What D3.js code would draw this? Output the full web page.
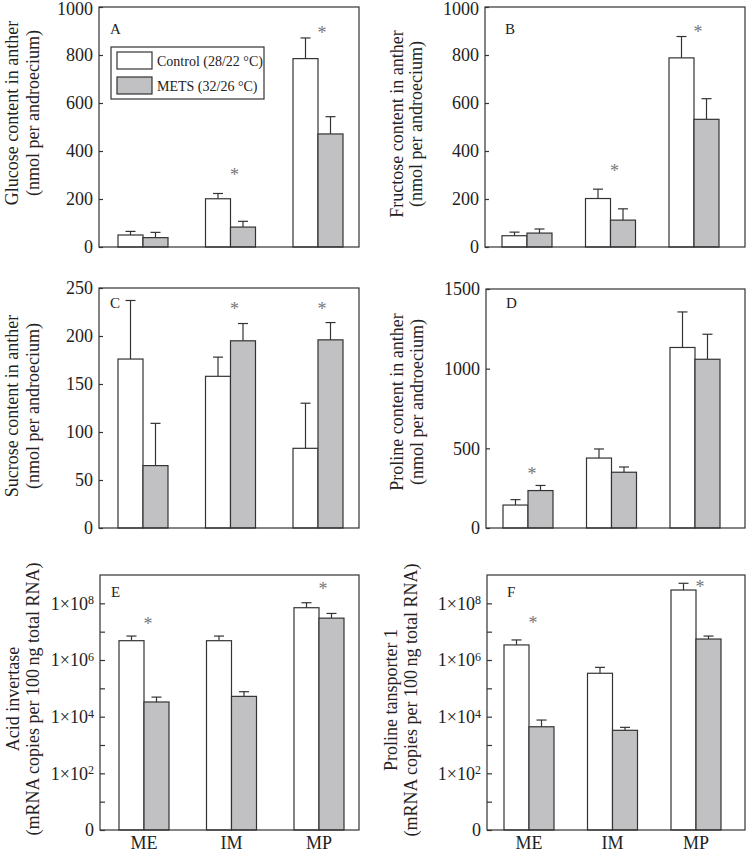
<!DOCTYPE html>
<html><head><meta charset="utf-8">
<script src="https://cdn.jsdelivr.net/npm/d3@7"></script>
<style>
body{margin:0;background:#fff}
svg{display:block}
text{font-family:"Liberation Serif","Times New Roman",serif;fill:#222}
</style>
</head><body>
<svg id="chart" width="747" height="853"></svg>
<script>
// ---------- DATA ----------
const categories = ["ME", "IM", "MP"];
const seriesNames = ["Control (28/22 °C)", "METS (32/26 °C)"];

// A: glucose (nmol per androecium)
const glucoseControl = [50, 201, 785];
const glucoseControlSE = [15, 22, 86];
const glucoseMets = [39, 83, 471];
const glucoseMetsSE = [22, 24, 72];
const glucoseSig = [["IM", 314], ["MP", 906]];

// B: fructose
const fructoseControl = [47, 202, 788];
const fructoseControlSE = [15, 39, 89];
const fructoseMets = [58, 112, 532];
const fructoseMetsSE = [17, 47, 86];
const fructoseSig = [["IM", 331], ["MP", 910]];

// C: sucrose
const sucroseControl = [176, 158, 83];
const sucroseControlSE = [61, 20, 47];
const sucroseMets = [65, 195, 196];
const sucroseMetsSE = [44, 18, 18];
const sucroseSig = [["IM", 231], ["MP", 231]];

// D: proline
const prolineControl = [144, 439, 1133];
const prolineControlSE = [34, 57, 223];
const prolineMets = [235, 350, 1059];
const prolineMetsSE = [32, 33, 157];
const prolineSig = [["ME", 360]];

// E: acid invertase (mRNA copies per 100 ng total RNA)
const invertaseControl = [4.8e6, 4.8e6, 7.0e7];
const invertaseControlSE = [2.2e6, 2.2e6, 3.5e7];
const invertaseMets = [3.3e4, 5.2e4, 3.0e7];
const invertaseMetsSE = [1.6e4, 2.4e4, 1.4e7];
const invertaseSig = [["ME", 2.4e7], ["MP", 4.1e8]];

// F: proline transporter 1
const transporterControl = [3.4e6, 3.4e5, 2.95e8];
const transporterControlSE = [1.7e6, 2.1e5, 2.15e8];
const transporterMets = [4.4e3, 3.3e3, 5.5e6];
const transporterMetsSE = [3.2e3, 0.9e3, 1.5e6];
const transporterSig = [["ME", 2.6e7], ["MP", 5.0e8]];

// tick labels
const ticksGlu = [0, 200, 400, 600, 800, 1000];
const ticksSuc = [0, 50, 100, 150, 200, 250];
const ticksPro = [0, 500, 1000, 1500];
const logMajor = [1, 1e2, 1e4, 1e6, 1e8];
const logMajorExp = [null, "2", "4", "6", "8"];
const logMinor = [1e1, 1e3, 1e5, 1e7];

// ---------- DRAW ----------
const svg = d3.select("#chart");
const INK = "#333";
const GRAY = "#c1c1c3";
const BARW = 25;

const panels = [
  {letter:"A", x0:99, x1:359, y0:7, y1:247, left:true, dom:[0,1000], ticks:ticksGlu, ly:34,
   c:glucoseControl, cs:glucoseControlSE, m:glucoseMets, ms:glucoseMetsSE, sig:glucoseSig,
   t1:"Glucose content in anther", t2:"(nmol per androecium)", tx:[12,33], ty:113, legend:true},
  {letter:"B", x0:485, x1:745, y0:7, y1:247, left:false, dom:[0,1000], ticks:ticksGlu, ly:34,
   c:fructoseControl, cs:fructoseControlSE, m:fructoseMets, ms:fructoseMetsSE, sig:fructoseSig,
   t1:"Fructose content in anther", t2:"(nmol per androecium)", tx:[397,416], ty:124},
  {letter:"C", x0:99, x1:359, y0:288, y1:528, left:true, dom:[0,250], ticks:ticksSuc, ly:308,
   c:sucroseControl, cs:sucroseControlSE, m:sucroseMets, ms:sucroseMetsSE, sig:sucroseSig,
   t1:"Sucrose content in anther", t2:"(nmol per androecium)", tx:[12,33], ty:406},
  {letter:"D", x0:486, x1:745, y0:289, y1:528, left:false, dom:[0,1500], ticks:ticksPro, ly:308,
   c:prolineControl, cs:prolineControlSE, m:prolineMets, ms:prolineMetsSE, sig:prolineSig,
   t1:"Proline content in anther", t2:"(nmol per androecium)", tx:[397,417], ty:402},
  {letter:"E", x0:100, x1:359, y0:575, y1:830, left:true, log:true, dom:[1,1e9], ly:597,
   c:invertaseControl, cs:invertaseControlSE, m:invertaseMets, ms:invertaseMetsSE, sig:invertaseSig,
   t1:"Acid invertase", t2:"(mRNA copies per 100\u2009ng total RNA)", tx:[13,33], ty:699, xlabels:true},
  {letter:"F", x0:487, x1:745, y0:575, y1:830, left:false, log:true, dom:[1,1e9], ly:597,
   c:transporterControl, cs:transporterControlSE, m:transporterMets, ms:transporterMetsSE, sig:transporterSig,
   t1:"Proline tansporter 1", t2:"(mRNA copies per 100\u2009ng total RNA)", tx:[391,411], ty:700, xlabels:true}
];

panels.forEach(p => {
  const g = svg.append("g");
  const y = p.log
    ? d3.scaleLog().domain(p.dom).range([p.y1, p.y0])
    : d3.scaleLinear().domain(p.dom).range([p.y1, p.y0]);
  const x = d3.scalePoint().domain(categories)
    .range(p.left ? [p.x0 + 44, p.x0 + 219] : [p.x0 + 42, p.x0 + 209]);

  // bars
  const rows = categories.map((cat, i) => ({cat, c:p.c[i], cs:p.cs[i], m:p.m[i], ms:p.ms[i]}));
  const series = [
    {key:"c", se:"cs", fill:"#fff", off:-BARW},
    {key:"m", se:"ms", fill:GRAY, off:0}
  ];
  series.forEach(s => {
    rows.forEach(r => {
      const cx = x(r.cat) + s.off + BARW / 2;
      const top = y(r[s.key]);
      const et = y(r[s.key] + r[s.se]);
      g.append("line").attr("x1", cx).attr("x2", cx).attr("y1", top).attr("y2", et)
        .attr("stroke", INK).attr("stroke-width", 1.2);
      g.append("line").attr("x1", cx - 5).attr("x2", cx + 5).attr("y1", et).attr("y2", et)
        .attr("stroke", INK).attr("stroke-width", 1.2);
    });
    g.selectAll(null).data(rows).enter().append("rect")
      .attr("x", r => x(r.cat) + s.off)
      .attr("width", BARW)
      .attr("y", r => y(r[s.key]))
      .attr("height", r => p.y1 - y(r[s.key]))
      .attr("fill", s.fill).attr("stroke", INK).attr("stroke-width", 1.2);
  });

  // frame
  g.append("rect").attr("x", p.x0).attr("y", p.y0)
    .attr("width", p.x1 - p.x0).attr("height", p.y1 - p.y0)
    .attr("fill", "none").attr("stroke", INK).attr("stroke-width", 1.2);

  // y axis ticks (inward) and labels
  if (!p.log) {
    const ax = d3.axisRight(y).tickValues(p.ticks).tickSize(4).tickFormat("");
    const axg = g.append("g").attr("transform", `translate(${p.x0},0)`).call(ax);
    axg.select(".domain").remove();
    axg.selectAll("line").attr("stroke", INK).attr("stroke-width", 1.2);
    g.selectAll(null).data(p.ticks).enter().append("text")
      .attr("x", p.x0 - 6).attr("y", d => Math.max(y(d), 9)).attr("dy", "0.36em")
      .attr("text-anchor", "end").attr("font-size", 18).text(d => d);
  } else {
    const ax = d3.axisRight(y).tickValues(logMajor.concat(logMinor)).tickSize(5).tickFormat("");
    const axg = g.append("g").attr("transform", `translate(${p.x0},0)`).call(ax);
    axg.select(".domain").remove();
    axg.selectAll("line").attr("stroke", INK).attr("stroke-width", 1.2);
    logMajor.forEach((v, i) => {
      const t = g.append("text").attr("x", p.x0 - 6).attr("y", y(v)).attr("dy", "0.36em")
        .attr("text-anchor", "end").attr("font-size", 18);
      if (logMajorExp[i] === null) { t.text("0"); }
      else {
        t.append("tspan").text("1\u00d710");
        t.append("tspan").attr("dy", "-0.45em").attr("font-size", 12).text(logMajorExp[i]);
      }
    });
  }

  // significance asterisks
  p.sig.forEach(([cat, v]) => {
    g.append("text").attr("x", x(cat) + 4).attr("y", y(v) + 9)
      .attr("text-anchor", "middle").attr("font-size", 18).style("fill", "#777").text("*");
  });

  // panel letter
  g.append("text").attr("x", p.left ? p.x0 + 11 : p.x0 + 20).attr("y", p.ly)
    .attr("font-size", 15).text(p.letter);

  // y titles
  [p.t1, p.t2].forEach((t, i) => {
    g.append("text").attr("transform", `translate(${p.tx[i]},${p.ty}) rotate(-90)`)
      .attr("text-anchor", "middle").attr("dy", "0.35em").attr("font-size", 18).text(t);
  });

  // x labels
  if (p.xlabels) {
    g.selectAll(null).data(categories).enter().append("text")
      .attr("x", d => x(d)).attr("y", 849).attr("text-anchor", "middle")
      .attr("font-size", 18).text(d => d);
  }

  // legend
  if (p.legend) {
    const lg = g.append("g");
    lg.append("rect").attr("x", 111).attr("y", 47).attr("width", 153).attr("height", 52)
      .attr("fill", "#fff").attr("stroke", INK).attr("stroke-width", 1.2);
    const fills = ["#fff", GRAY];
    seriesNames.forEach((nm, i) => {
      lg.append("rect").attr("x", 117).attr("y", 52 + i * 25).attr("width", 35).attr("height", 17)
        .attr("fill", fills[i]).attr("stroke", INK).attr("stroke-width", 1.2);
      lg.append("text").attr("x", 157).attr("y", 65.5 + i * 25).attr("font-size", 14).text(nm);
    });
  }
});
</script>
</body></html>
